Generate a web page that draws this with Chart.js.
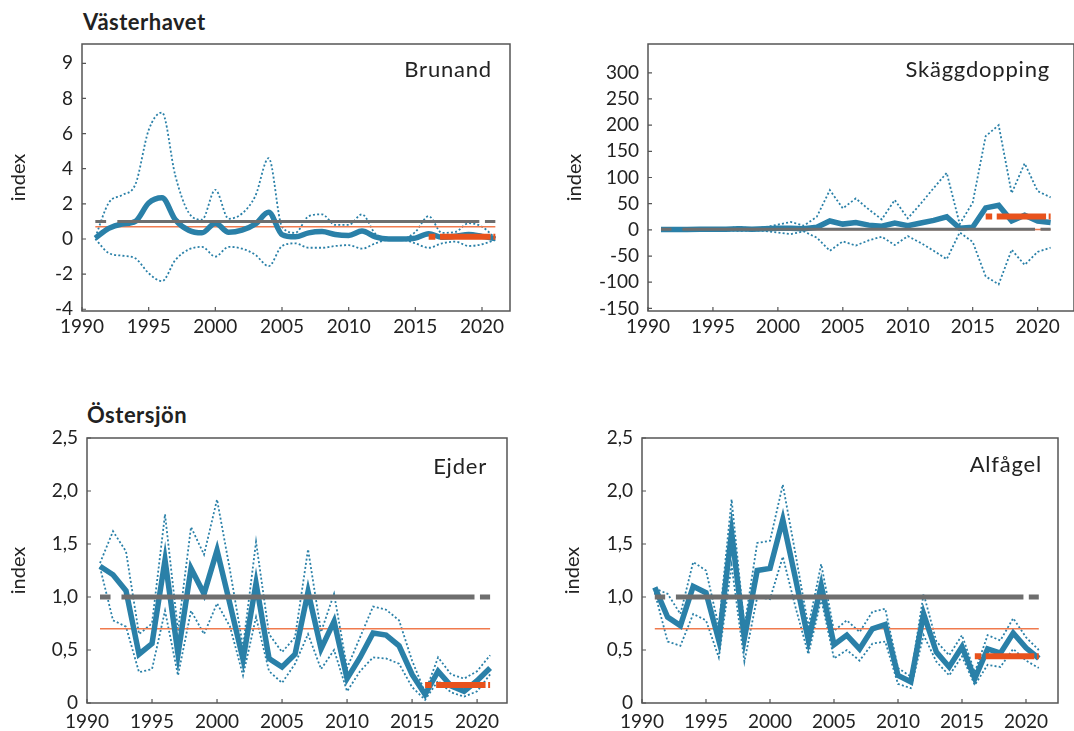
<!DOCTYPE html>
<html lang="sv">
<head>
<meta charset="utf-8">
<title>Index – Västerhavet och Östersjön</title>
<script src="https://cdn.jsdelivr.net/npm/chart.js@4.4.1/dist/chart.umd.min.js"></script>
<style>
    body { margin: 0; width: 1074px; height: 731px; position: relative; overflow: hidden; background: #fff; font-family: Lato, "Open Sans", sans-serif; color: #222; }
    canvas { position: absolute; }
    .region { position: absolute; font-weight: 700; font-size: 22px; line-height: 26px; letter-spacing: 0.5px; }
    .art { position: absolute; font-size: 22px; line-height: 26px; letter-spacing: 0.8px; white-space: nowrap; }
</style>
</head>
<body>
<div class="region" style="left:83px; top:9px">Västerhavet</div>
<div class="region" style="left:87px; top:402px">Östersjön</div>

<canvas id="brunand" width="530" height="320" style="left:0; top:30px"></canvas>
<canvas id="skaggdopping" width="534" height="320" style="left:540px; top:30px"></canvas>
<canvas id="ejder" width="530" height="307" style="left:0; top:424px"></canvas>
<canvas id="alfagel" width="534" height="307" style="left:540px; top:424px"></canvas>

<div class="art" style="right:582px; top:56px">Brunand</div>
<div class="art" style="right:24px; top:56px">Skäggdopping</div>
<div class="art" style="right:587px; top:453px">Ejder</div>
<div class="art" style="right:32px; top:451px">Alfågel</div>

<script>
// År
const years = [1991, 1992, 1993, 1994, 1995, 1996, 1997, 1998, 1999, 2000,
               2001, 2002, 2003, 2004, 2005, 2006, 2007, 2008, 2009, 2010,
               2011, 2012, 2013, 2014, 2015, 2016, 2017, 2018, 2019, 2020, 2021];
const refYears = [1991, 2021];
const targetYears = [2016, 2021];
const xTicks = [1990, 1995, 2000, 2005, 2010, 2015, 2020];

// Referensnivåer
const refLevel = [1, 1];
const limitLevel = [0.7, 0.7];

// Brunand
const brunandIndex = [0.05, 0.6, 0.85, 1.0, 2.05, 2.35, 1.1, 0.5, 0.35, 0.9, 0.38, 0.5, 0.85, 1.52, 0.25, 0.12,
                      0.35, 0.42, 0.25, 0.2, 0.45, 0.12, 0.0, 0.0, 0.05, 0.3, 0.1, 0.15, 0.25, 0.15, 0.02];
const brunandHigh = [0.1, 2.05, 2.5, 3.1, 6.2, 7.2, 3.6, 1.5, 1.1, 2.8, 1.15, 1.45, 2.45, 4.6, 0.7, 0.35,
                     1.3, 1.4, 0.8, 0.8, 1.4, 0.3, 0.0, 0.0, 0.4, 1.3, 0.35, 0.4, 0.9, 0.7, 0.05];
const brunandLow = [0.0, -0.8, -0.95, -1.1, -1.95, -2.4, -1.2, -0.6, -0.45, -1.0, -0.45, -0.55, -0.9, -1.55, -0.4, -0.25,
                    -0.5, -0.5, -0.4, -0.35, -0.55, -0.25, -0.05, -0.05, -0.25, -0.5, -0.25, -0.15, -0.4, -0.3, -0.05];
const brunandTarget = [0.12, 0.12];
const brunandTicks = [-4, -2, 0, 2, 4, 6, 8, 10];

// Skäggdopping
const skaggIndex = [0.5, 0.5, 0.5, 1, 1, 1, 2, 1, 2, 3, 3, 2, 5, 17, 11, 14,
                    9, 7, 13, 8, 13, 18, 25, 3, 5, 42, 47, 17, 28, 17, 14];
const skaggHigh = [1, 1, 1, 2, 3, 2, 6, 2, 5, 10, 15, 8, 25, 76, 41, 60,
                   39, 20, 57, 22, 50, 80, 109, 11, 52, 179, 200, 70, 127, 74, 62];
const skaggLow = [0, 0, 0, -1, -1, -1, -2, -1, -2, -5, -8, -3, -15, -40, -22, -30,
                  -20, -13, -29, -12, -25, -40, -56, -5, -23, -89, -104, -38, -67, -42, -34];
const skaggTarget = [25.5, 25.5];
const skaggTicks = [-150, -100, -50, 0, 50, 100, 150, 200, 250, 300];

// Ejder
const ejderIndex = [1.29, 1.21, 1.06, 0.46, 0.56, 1.35, 0.46, 1.27, 1.03, 1.44, 0.93, 0.41, 1.13, 0.42, 0.34, 0.46,
                    1.05, 0.51, 0.77, 0.23, 0.43, 0.66, 0.64, 0.54, 0.27, 0.08, 0.30, 0.16, 0.11, 0.21, 0.33];
const ejderHigh = [1.32, 1.62, 1.43, 0.65, 0.75, 1.78, 0.68, 1.66, 1.40, 1.92, 1.25, 0.53, 1.52, 0.65, 0.48, 0.62,
                   1.45, 0.67, 1.03, 0.33, 0.62, 0.91, 0.88, 0.78, 0.40, 0.10, 0.43, 0.27, 0.23, 0.30, 0.45];
const ejderLow = [1.28, 0.78, 0.72, 0.29, 0.32, 0.87, 0.26, 0.87, 0.65, 0.94, 0.72, 0.26, 0.81, 0.30, 0.19, 0.37,
                  0.65, 0.32, 0.50, 0.11, 0.30, 0.43, 0.42, 0.37, 0.15, 0.03, 0.21, 0.10, 0.06, 0.11, 0.27];
const ejderTarget = [0.17, 0.17];

// Alfågel
const alfagelIndex = [1.09, 0.81, 0.73, 1.10, 1.04, 0.59, 1.61, 0.61, 1.25, 1.27, 1.73, 1.17, 0.59, 1.11, 0.55, 0.64,
                      0.51, 0.70, 0.74, 0.26, 0.20, 0.84, 0.48, 0.34, 0.53, 0.23, 0.51, 0.47, 0.66, 0.52, 0.42];
const alfagelHigh = [1.08, 1.03, 0.84, 1.33, 1.25, 0.72, 1.92, 0.72, 1.51, 1.53, 2.06, 1.40, 0.72, 1.31, 0.68, 0.78,
                     0.67, 0.86, 0.89, 0.33, 0.25, 1.03, 0.58, 0.45, 0.64, 0.29, 0.64, 0.59, 0.80, 0.62, 0.50];
const alfagelLow = [1.04, 0.58, 0.54, 0.84, 0.78, 0.43, 1.30, 0.39, 1.00, 0.98, 1.38, 0.90, 0.46, 0.98, 0.42, 0.50,
                    0.40, 0.56, 0.58, 0.18, 0.14, 0.64, 0.39, 0.26, 0.44, 0.17, 0.36, 0.34, 0.51, 0.40, 0.33];
const alfagelTarget = [0.44, 0.44];
const balticTicks = [0, 0.5, 1, 1.5, 2, 2.5];

const BLUE = "#2a80a8";
const GREY = "#6e6e6e";
const ORANGE = "#e8521c";
const ORANGE_THIN = "#f07a4e";
const TEXT = "#222";

Chart.defaults.font.family = "Lato, 'Open Sans', sans-serif";
Chart.defaults.color = TEXT;

function points(xs, ys) {
    return xs.map((x, i) => ({ x: x, y: ys[i] }));
}

// Streckmönster räknat på linjens längd i pixlar
function spanPx(ctx, range) {
    const x = ctx.chart.scales.x;
    if (!x) return 100;
    return x.getPixelForValue(range[1]) - x.getPixelForValue(range[0]);
}
function refDash(ctx) {
    const L = spanPx(ctx, refYears);
    return [0.027 * L, 0.028 * L, 0.905 * L, 0.014 * L];
}
function targetDash(ctx) {
    const L = spanPx(ctx, targetYears);
    return [0.1 * L, 0.07 * L, 0.76 * L, 0.04 * L];
}

// Ram runt diagrammet och inåtvända skalstreck
const framePlugin = {
    id: "frame",
    afterDatasetsDraw(chart) {
        const { ctx, chartArea: a, scales } = chart;
        ctx.save();
        ctx.strokeStyle = "#555";
        ctx.lineWidth = 1.5;
        ctx.strokeRect(a.left, a.top, a.right - a.left, a.bottom - a.top);
        ctx.lineWidth = 1.2;
        ctx.beginPath();
        scales.y.ticks.forEach(t => {
            const py = scales.y.getPixelForValue(t.value);
            ctx.moveTo(a.left, py);
            ctx.lineTo(a.left + 4, py);
        });
        scales.x.ticks.forEach(t => {
            const px = scales.x.getPixelForValue(t.value);
            ctx.moveTo(px, a.bottom);
            ctx.lineTo(px, a.bottom - 4);
        });
        ctx.stroke();
        ctx.restore();
    }
};

function makeChart(id, p) {
    const curve = p.smooth ? "monotone" : "default";
    new Chart(document.getElementById(id), {
        type: "line",
        data: {
            datasets: [
                { data: points(refYears, refLevel), borderColor: GREY, borderWidth: p.refWidth, borderDash: refDash, order: 2 },
                { data: points(targetYears, p.target), borderColor: ORANGE, borderWidth: 6, borderDash: targetDash, order: 1 },
                { data: points(years, p.index), borderColor: BLUE, borderWidth: 5.5, cubicInterpolationMode: curve, order: 3 },
                { data: points(refYears, limitLevel), borderColor: ORANGE_THIN, borderWidth: 1.5, order: 4 },
                { data: points(years, p.high), borderColor: BLUE, borderWidth: 1.8, borderDash: [2, 2.2], cubicInterpolationMode: curve, order: 5 },
                { data: points(years, p.low), borderColor: BLUE, borderWidth: 1.8, borderDash: [2, 2.2], cubicInterpolationMode: curve, order: 5 },
            ],
        },
        options: {
            responsive: false,
            animation: false,
            parsing: false,
            elements: { point: { radius: 0 }, line: { tension: 0 } },
            layout: { padding: { top: 14, right: p.padRight, bottom: 0, left: 0 } },
            plugins: { legend: { display: false }, tooltip: { enabled: false } },
            scales: {
                x: {
                    type: "linear",
                    min: p.xMin,
                    max: p.xMax,
                    afterBuildTicks: s => { s.ticks = xTicks.map(v => ({ value: v })); },
                    afterFit: s => { s.height = p.xHeight; s.paddingLeft = 0; s.paddingRight = 0; },
                    ticks: { callback: v => String(v), padding: p.xPad, font: { size: 19 }, color: TEXT, maxRotation: 0, autoSkip: false },
                    grid: { display: false, drawTicks: false },
                    border: { display: false },
                },
                y: {
                    type: "linear",
                    min: p.yMin,
                    max: p.yMax,
                    afterBuildTicks: s => { s.ticks = p.yTicks.map(v => ({ value: v })); },
                    afterFit: s => { s.width = p.yWidth; s.paddingTop = 0; s.paddingBottom = 0; },
                    ticks: { callback: p.yLabel, padding: 9, font: { size: 19 }, color: TEXT, autoSkip: false },
                    grid: { display: false, drawTicks: false },
                    border: { display: false },
                    title: { display: true, text: "index", font: { size: 20 }, color: TEXT, padding: { top: p.titlePad, bottom: 0 } },
                },
            },
        },
        plugins: [framePlugin],
    });
}

const comma = v => (v === 0 ? "0" : v.toFixed(1).replace(".", ","));

makeChart("brunand", {
    index: brunandIndex, high: brunandHigh, low: brunandLow, target: brunandTarget,
    smooth: true, refWidth: 3,
    xMin: 1990, xMax: 2022.1, yMin: -4.1, yMax: 11.1, yTicks: brunandTicks,
    yLabel: v => (v === 10 ? "9" : String(v)),
    yWidth: 82, xHeight: 39, padRight: 20, xPad: 4, titlePad: 7,
});

makeChart("skaggdopping", {
    index: skaggIndex, high: skaggHigh, low: skaggLow, target: skaggTarget,
    smooth: false, refWidth: 3,
    xMin: 1990, xMax: 2022.8, yMin: -155, yMax: 355, yTicks: skaggTicks,
    yLabel: v => String(v),
    yWidth: 108, xHeight: 39, padRight: 0, xPad: 4, titlePad: 23,
});

makeChart("ejder", {
    index: ejderIndex, high: ejderHigh, low: ejderLow, target: ejderTarget,
    smooth: false, refWidth: 5,
    xMin: 1990, xMax: 2022.3, yMin: 0, yMax: 2.5, yTicks: balticTicks,
    yLabel: comma,
    yWidth: 87, xHeight: 28, padRight: 23, xPad: 7, titlePad: 7,
});

makeChart("alfagel", {
    index: alfagelIndex, high: alfagelHigh, low: alfagelLow, target: alfagelTarget,
    smooth: false, refWidth: 5,
    xMin: 1990, xMax: 2022.5, yMin: 0, yMax: 2.5, yTicks: balticTicks,
    yLabel: comma,
    yWidth: 102, xHeight: 28, padRight: 16, xPad: 7, titlePad: 21,
});
</script>
</body>
</html>
